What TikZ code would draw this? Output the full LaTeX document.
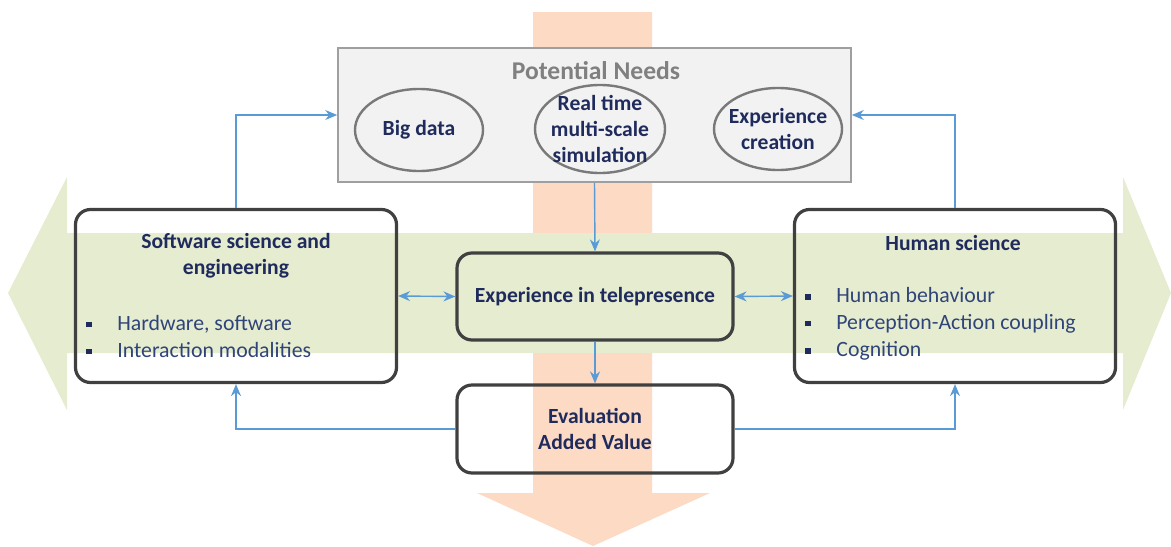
\documentclass[tikz,border=0pt]{standalone}
\usepackage{fontspec}
\setmainfont{Carlito}
\usepackage{xcolor}
\usetikzlibrary{positioning, shapes.geometric, arrows.meta}
\definecolor{bandgreen}{RGB}{230,236,208}
\definecolor{shaftorange}{RGB}{252,218,196}
\definecolor{needgray}{RGB}{242,242,242}
\definecolor{framegray}{RGB}{64,64,64}
\definecolor{linkblue}{RGB}{91,155,213}
\definecolor{navy}{RGB}{31,43,92}
\definecolor{itemblue}{RGB}{47,68,120}
\newcommand{\sqbul}{\makebox[15.5pt][l]{\color{navy}\rule[1.6pt]{2.8pt}{2.8pt}}}

\begin{document}
\begin{tikzpicture}[x=0.5pt, y=-0.5pt,
      field/.style={draw=framegray, line width=1.6pt, rounded corners=7.5pt},
      need/.style={ellipse, draw=gray!95!black, line width=1.2pt, inner sep=0pt},
      title/.style={font=\fontsize{10.8}{13}\selectfont\bfseries, text=navy, align=center},
      items/.style={font=\fontsize{10.9}{13.5}\selectfont, text=itemblue, align=left, anchor=west, inner sep=0pt},
      link/.style={draw=linkblue, line width=0.7pt, -{Stealth[length=6pt,width=5pt]}},
      both/.style={{Stealth[length=6pt,width=5pt]}-{Stealth[length=6pt,width=5pt]}}]
      \useasboundingbox (0,0) rectangle (1171,546);
      % background arrows
      \fill[shaftorange] (533,12) -- (652,12) -- (652,493) -- (710,493) -- (593,546) -- (477,493) -- (533,493) -- cycle;
      \fill[bandgreen] (8,293) -- (67,177) -- (67,233) -- (1123,233) -- (1123,177) -- (1171,293)
        -- (1123,410) -- (1123,353) -- (67,353) -- (67,410) -- cycle;
      % potential needs
      \node[draw=gray!75, fill=needgray, line width=0.8pt, minimum width=256.5pt, minimum height=67pt, inner sep=0pt] (needs) at (594.5,115) {};
      \node[font=\fontsize{12.8}{15}\selectfont\bfseries, text=gray] (needstitle) at (596,71) {Potential Needs};
      \node[need, minimum width=64pt, minimum height=41pt] (bigdata) at (419,130) {};
      \node[title] at (bigdata) {Big data};
      \node[need, minimum width=65pt, minimum height=44pt] (rtsim) at (600,129) {};
      \node[title] at (rtsim) {Real time\\multi-scale\\simulation};
      \node[need, minimum width=64pt, minimum height=41pt] (expcreation) at (778,129) {};
      \node[title] at (expcreation) {Experience\\creation};
      % fields
      \node[field, minimum width=160.5pt, minimum height=86.5pt] (software) at (236,296) {};
      \node[title] (softwaretitle) at (236,256) {Software science and\\engineering};
      \node[items] (softwareitems) at (86,336.5) {\sqbul Hardware, software\\\sqbul Interaction modalities};
      \node[field, minimum width=160.5pt, minimum height=86.5pt] (human) at (955,296) {};
      \node[title] (humantitle) at (953,243) {Human science};
      \node[items] (humanitems) at (805,324) {\sqbul Human behaviour\\\sqbul Perception-Action coupling\\\sqbul Cognition};
      \node[field, fill=bandgreen, minimum width=138pt, minimum height=43.5pt, title] (telep) at (595,296.5) {Experience in telepresence};
      \node[field, minimum width=138pt, minimum height=44pt, title] (evaluation) at (595,429) {Evaluation\\Added Value};
      % links
      \draw[link] (needs.south) -- (telep.north);
      \draw[link] (telep.south) -- (evaluation.north);
      \draw[link, both] (software.east) -- (telep.west);
      \draw[link, both] (telep.east) -- (human.west);
      \draw[link] (software.north) |- (needs.west);
      \draw[link] (human.north) |- (needs.east);
      \draw[link] (evaluation.west) -| (software.south);
      \draw[link] (evaluation.east) -| (human.south);
    \end{tikzpicture}
\end{document}
